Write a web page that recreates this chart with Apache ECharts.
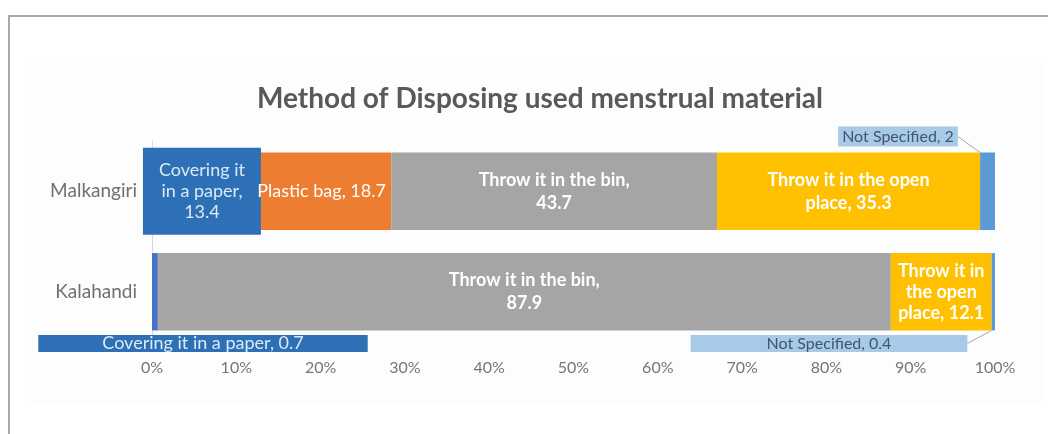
<!DOCTYPE html>
<html>
<head>
<meta charset="utf-8">
<title>Method of Disposing used menstrual material</title>
<script src="https://cdn.jsdelivr.net/npm/echarts@6/dist/echarts.min.js"></script>
<style>
  html, body { margin: 0; padding: 0; background: #ffffff; }
  #chart { position: absolute; left: 0; top: 0; width: 1048px; height: 434px; }
  #frame { position: absolute; left: 8px; top: 15px; right: 0; bottom: 0;
           border-top: 2px solid #a8a8a8; border-left: 2px solid #a8a8a8; pointer-events: none; }
</style>
</head>
<body>
<div id="chart"></div>
<div id="frame"></div>
<script>
// Districts (rows) and disposal methods (stacked segments)
const districts = ['Malkangiri', 'Kalahandi'];
const methods = ['Covering it in a paper', 'Plastic bag', 'Throw it in the bin',
                 'Throw it in the open place', 'Not Specified'];
const malkangiri = [13.4, 18.7, 43.7, 35.3, 2];
const kalahandi  = [0.7, 0, 87.9, 12.1, 0.4];
const xTicks = [0, 10, 20, 30, 40, 50, 60, 70, 80, 90, 100];

const colors = ['#4472c4', '#ed7d31', '#a5a5a5', '#ffc000', '#5b9bd5'];
const FONT = 'Lato';

const rows = [malkangiri, kalahandi];
const totals = rows.map(r => r.reduce((a, b) => a + b, 0));

// words per line for each label ([district] per method); null = single line
const lineWords = [
  [[2, 3, 1], null],
  [null, null],
  [[5, 1], [5, 1]],
  [[5, 2], [3, 2, 2]],
  [null, null]
];

function labelText(name, raw, words) {
  const parts = (name + ', ' + raw).split(' ');
  if (!words) return parts.join(' ');
  const out = [];
  let i = 0;
  words.forEach(n => { out.push(parts.slice(i, i + n).join(' ')); i += n; });
  return out.join('\n');
}

// per-cell label boxes
const boxDark = { backgroundColor: '#2e70b6', color: '#dce9f6', fontWeight: 'normal' };
const boxLight = { backgroundColor: '#a8cae9', color: '#44546a', fontWeight: 'normal', fontSize: 16 };
const cellLabel = {
  '0-0': Object.assign({ padding: [12, 16], lineHeight: 21 }, boxDark),
  '0-1': Object.assign({ padding: [0, 64], lineHeight: 17 }, boxDark),
  '1-0': { fontWeight: 'normal' },
  '3-1': { lineHeight: 21 },
  '4-0': Object.assign({ padding: [1, 4], lineHeight: 18 }, boxLight),
  '4-1': Object.assign({ padding: [0, 76], lineHeight: 17 }, boxLight)
};

function layoutFor(si) {
  return function (p) {
    const r = p.rect, w = p.labelRect.width;
    if (si === 0 && p.dataIndex === 1) {
      return { x: r.x + 51, y: r.y + r.height + 13, align: 'center', verticalAlign: 'middle' };
    }
    if (si === 4 && p.dataIndex === 0) {
      const cx = r.x + r.width - 97, cy = r.y - 16;
      return { x: cx, y: cy, align: 'center', verticalAlign: 'middle',
               labelLinePoints: [[cx + w / 2, cy], [cx + w / 2 + 10, cy], [r.x + r.width / 2, r.y]] };
    }
    if (si === 4 && p.dataIndex === 1) {
      const cx = r.x + r.width - 166, cy = r.y + r.height + 13;
      return { x: cx, y: cy, align: 'center', verticalAlign: 'middle',
               labelLinePoints: [[cx + w / 2, cy], [cx + w / 2 + 10, cy], [r.x + r.width / 2, r.y + r.height]] };
    }
    return {};
  };
}

const series = methods.map((name, si) => ({
  name: name,
  type: 'bar',
  stack: 'total',
  barCategoryGap: '23%',
  itemStyle: { color: colors[si] },
  label: {
    show: true,
    position: 'inside',
    color: '#ffffff',
    fontFamily: FONT,
    fontSize: 18,
    fontWeight: 'bold',
    lineHeight: 23,
    align: 'center',
    verticalAlign: 'middle',
    formatter: p => labelText(p.seriesName, p.data.raw, lineWords[si][p.dataIndex])
  },
  labelLine: { show: si === 4, lineStyle: { color: '#a6a6a6', width: 1 } },
  labelLayout: layoutFor(si),
  data: rows.map((r, di) => {
    const item = { value: r[si] / totals[di] * 100, raw: r[si] };
    const extra = cellLabel[si + '-' + di];
    if (r[si] === 0) item.label = { show: false };
    else if (extra) item.label = extra;
    return item;
  })
}));

const chart = echarts.init(document.getElementById('chart'), null, { renderer: 'canvas' });
chart.setOption({
  animation: false,
  backgroundColor: '#ffffff',
  title: {
    text: 'Method of Disposing used menstrual material',
    left: 535,
    top: 80,
    textAlign: 'center',
    textStyle: { fontFamily: FONT, fontSize: 28, fontWeight: 'bold', color: '#595959' }
  },
  graphic: [{
    type: 'rect', z: -10, silent: true,
    shape: { x: 30, y: 58, width: 1013, height: 346 },
    style: { fill: '#fdfdfd' }
  }],
  grid: { left: 152, right: 53, top: 141, bottom: 92 },
  xAxis: {
    type: 'value',
    min: 0, max: 100, interval: 10,
    axisLine: { show: false },
    axisTick: { show: false },
    splitLine: { show: false },
    axisLabel: {
      margin: 18, color: '#767676', fontFamily: FONT, fontSize: 16,
      formatter: v => xTicks.indexOf(v) >= 0 ? v + '%' : ''
    }
  },
  yAxis: {
    type: 'category',
    inverse: true,
    data: districts,
    axisTick: { show: false },
    axisLine: { show: true, lineStyle: { color: '#d9d9d9', width: 1 } },
    axisLabel: { margin: 15, color: '#6f6f6f', fontFamily: FONT, fontSize: 19 }
  },
  series: series
});
</script>
</body>
</html>
